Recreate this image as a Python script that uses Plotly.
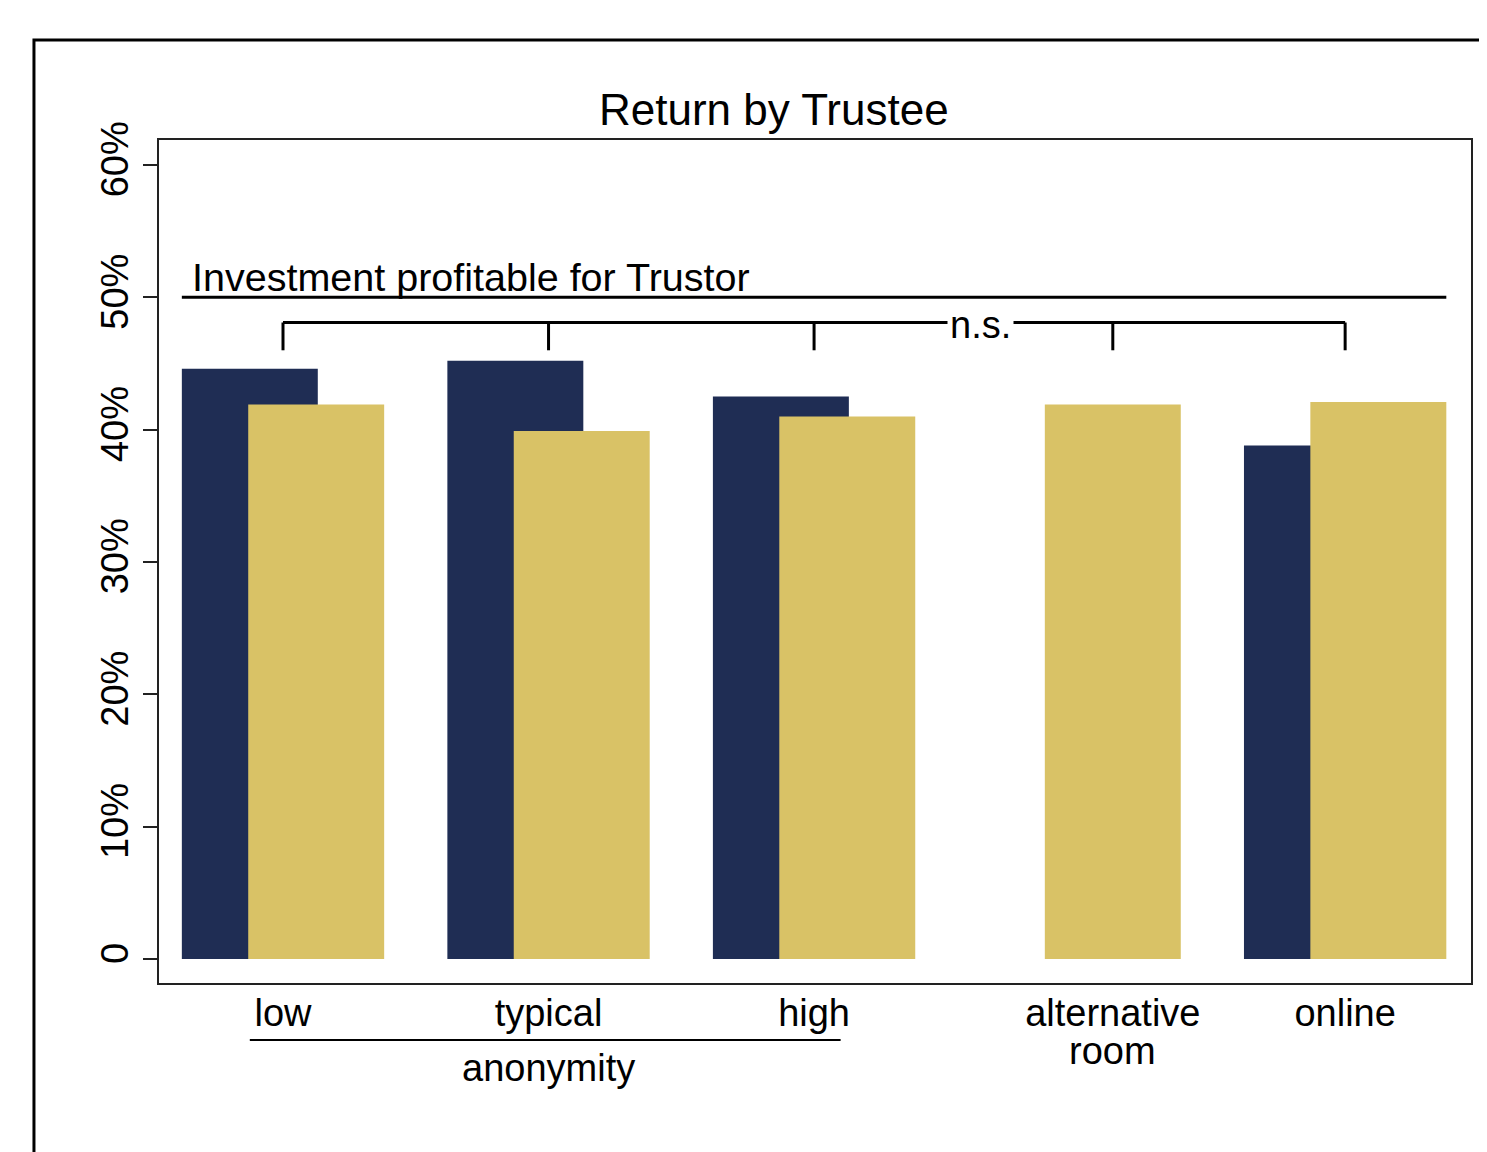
import plotly.graph_objects as go

# ── Data ──────────────────────────────────────────────────────────────────────
categories = ["low", "typical", "high", "alternative\nroom", "online"]
group_pos = [0, 1, 2, 3, 4]
trustee_a = [44.6, 45.2, 42.5, None, 38.8]   # navy series
trustee_b = [41.9, 39.9, 41.0, 41.9, 42.1]   # gold series
y_ticks = [0, 10, 20, 30, 40, 50, 60]
y_ticktext = ["0", "10%", "20%", "30%", "40%", "50%", "60%"]
bracket_top, bracket_bottom = 48.1, 46.0
profit_line = 50

# ── Style ─────────────────────────────────────────────────────────────────────
NAVY = "#1f2d54"
GOLD = "#d9c266"
FONT = "Liberation Sans, Arial, Helvetica, sans-serif"
BW = 0.512        # bar width (group units)
SHIFT = 0.125     # half-distance between the two bars of a group

# tick label sits on the gold bar when the navy one is missing
label_pos = [p + (SHIFT if a is None else 0) for p, a in zip(group_pos, trustee_a)]
first_lines = [c.split("\n")[0] for c in categories]

fig = go.Figure()
fig.add_trace(go.Bar(
    x=group_pos, y=trustee_a, width=BW, offset=-SHIFT - BW / 2,
    marker=dict(color=NAVY, line_width=0), showlegend=False,
))
fig.add_trace(go.Bar(
    x=group_pos, y=trustee_b, width=BW, offset=SHIFT - BW / 2,
    marker=dict(color=GOLD, line_width=0), showlegend=False,
))

fig.update_layout(
    width=1487, height=1152,
    margin=dict(l=151, r=24, t=132, b=177),
    barmode="overlay",
    plot_bgcolor="white", paper_bgcolor="white",
    font=dict(family=FONT, size=38, color="black"),
    title=dict(text="Return by Trustee", font=dict(size=44),
               x=0.515, xanchor="center", xref="container",
               y=0.912, yanchor="middle", yref="container"),
)
fig.update_xaxes(
    range=[-0.467, 4.474], showgrid=False, zeroline=False,
    showline=True, mirror=True, linecolor="#222", linewidth=2,
    tickvals=label_pos, ticktext=first_lines, ticks="",
    ticklabelstandoff=-5,
)
fig.update_yaxes(
    range=[-1.81, 61.89], showgrid=False, zeroline=False,
    showline=True, mirror=True, linecolor="#222", linewidth=2,
    tickvals=y_ticks, ticktext=y_ticktext, ticks="outside",
    ticklen=14, tickwidth=2, tickcolor="#222", tickangle=-90,
)

# ── Annotations & shapes ──────────────────────────────────────────────────────
left_edge = group_pos[0] - SHIFT - BW / 2
right_edge = group_pos[-1] + SHIFT + BW / 2

fig.add_shape(type="line", x0=left_edge, x1=right_edge, y0=profit_line, y1=profit_line,
              line=dict(color="black", width=3))
fig.add_annotation(x=left_edge, y=profit_line, text="Investment profitable for Trustor",
                   xanchor="left", yanchor="bottom", xshift=8, yshift=-4,
                   showarrow=False, font=dict(size=39.5))

# n.s. bracket
fig.add_shape(type="line", x0=label_pos[0], x1=label_pos[-1], y0=bracket_top, y1=bracket_top,
              line=dict(color="black", width=3))
for p in label_pos:
    fig.add_shape(type="line", x0=p, x1=p, y0=bracket_top, y1=bracket_bottom,
                  line=dict(color="black", width=3))
fig.add_annotation(x=2.625, y=bracket_top, text="n.s.", showarrow=False,
                   bgcolor="white", borderpad=2, yanchor="middle", yshift=-2,
                   font=dict(size=38))

# second lines of multi-line category labels
for p, c in zip(label_pos, categories):
    parts = c.split("\n")
    if len(parts) > 1:
        fig.add_annotation(x=p, y=-0.0805, yref="paper", text=parts[1], showarrow=False,
                           xanchor="center", yanchor="middle", font=dict(size=38))

# anonymity group bracket
fig.add_shape(type="line", x0=-0.125, x1=2.1, y0=-0.0676, y1=-0.0676, yref="paper",
              line=dict(color="black", width=2))
fig.add_annotation(x=group_pos[1], y=-0.1013, yref="paper", text="anonymity", showarrow=False,
                   xanchor="center", yanchor="middle", font=dict(size=38))

# outer frame
fig.add_shape(type="rect", xref="paper", yref="paper",
              x0=-0.0953, x1=1.05, y0=-0.25, y1=1.1186,
              line=dict(color="black", width=3), layer="below")

fig.write_html("out.html")
